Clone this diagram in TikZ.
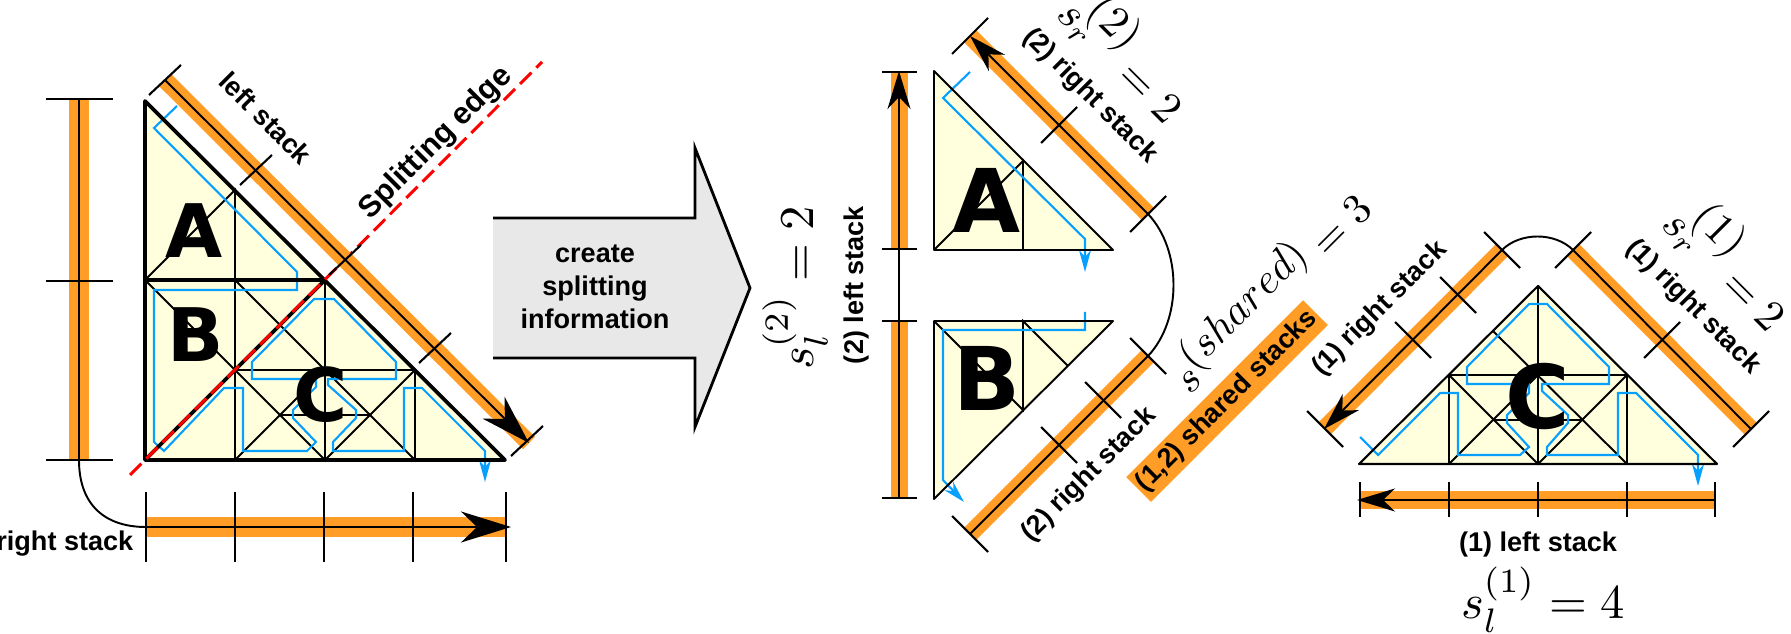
\documentclass[tikz,border=0pt]{standalone}
\usepackage[no-math]{fontspec}
\setmainfont{Liberation Sans}
\newfontfamily\letterfont{DejaVu Sans}
\usetikzlibrary{arrows.meta}
\definecolor{stackorange}{RGB}{255,157,38}
\definecolor{cellyellow}{RGB}{255,255,222}
\definecolor{pathblue}{RGB}{8,160,255}
\definecolor{arrowgray}{RGB}{232,232,232}
\tikzset{
  stackband/.style={stackorange, line width=1.7mm},
  stackline/.style={black, line width=0.55pt},
  stacktip/.style={-{Stealth[length=3.8mm,width=2.3mm,inset=1.2mm]}},
  bigtip/.style={-{Stealth[length=5mm,width=3.1mm,inset=1.6mm]}},
  tickline/.style={black, line width=0.6pt},
  cellline/.style={black, line width=0.55pt},
  bluepath/.style={pathblue, line width=0.6pt, -{Stealth[length=2.2mm,width=1.2mm,inset=0.7mm]}},
  stacklabel/.style={font=\fontsize{7.7}{9.4}\selectfont\bfseries, inner sep=0pt},
  mathlabel/.style={scale=1.38, inner sep=0pt},
  sidelabel/.style={scale=1.25, inner sep=0pt, anchor=base west},
  bigletter/.style={font=\fontsize{#1}{#1}\selectfont\letterfont\bfseries, inner sep=0pt},
}
\begin{document}
\begin{tikzpicture}[x=0.01cm,y=-0.01cm]
\useasboundingbox (0,0) rectangle (1791,634);

% left triangle
\fill[cellyellow] (145,101) -- (505,460) -- (145,460) -- cycle;
\draw[cellline] (145,280) -- (235,190) -- (235,460);
\draw[cellline] (145,280) -- (325,460) -- (325,280);
\draw[cellline] (235,280) -- (415,460) -- (415,370) -- (235,370);
\draw[cellline] (235,460) -- (325,370);
\draw[cellline] (325,460) -- (415,370);
\draw[cellline] (280,415) -- (370,415);
\draw[bluepath] (177,106) -- (154,128) -- (297,272) -- (297,290) -- (154,290) -- (154,442) -- (164,451) -- (224,388) -- (243,388) -- (243,451) -- (307,451) -- (316,442) -- (293,418) -- (293,410) -- (316,387) -- (316,379) -- (252,379) -- (252,362) -- (314,299) -- (334,299) -- (396,362) -- (396,379) -- (328,379) -- (328,385) -- (356,410) -- (356,418) -- (333,442) -- (333,451) -- (404,451) -- (404,388) -- (422,388) -- (485,451) -- (485,482);
\draw[line width=1.05pt, line join=round] (145,101) -- (505,460) -- (145,460) -- cycle;
\draw[line width=1.05pt] (145,280) -- (325,280);
\draw[line width=1.05pt] (145,460) -- (325,280);
\node[bigletter=21] (lettera) at (194,231) {A};
\node[bigletter=21] (letterb) at (196,335) {B};
\node[bigletter=21] (letterc) at (321,395) {C};
\draw[red, line width=0.85pt, dash pattern=on 1.6mm off 0.7mm] (130,475) -- (542,62);

% left triangle stacks
\coordinate (lefta) at (79,100);
\coordinate (leftb) at (79,460);
\coordinate (bottoma) at (146,527);
\coordinate (bottomb) at (511,527);
\coordinate (diaga) at (165,80);
\coordinate (diagb) at (529,443);
\draw[stackband, line width=2mm] (lefta) -- (leftb);
\draw[stackline] (lefta) -- (leftb);
\draw[stackband, line width=2mm] (bottoma) -- (506,527);
\draw[stackline, bigtip] (bottoma) -- (bottomb);
\draw[stackband] (diaga) -- (diagb);
\draw[stackline, bigtip] (diaga) -- (diagb);
\draw[stackline] (leftb) .. controls (79,505) and (105,527) .. (bottoma);
\foreach \y in {99,281,460}
  \draw[tickline] (46,\y) -- (113,\y);
\foreach \x in {146,235,324,413,506}
  \draw[tickline] (\x,492) -- (\x,562);
\foreach \x/\y in {165/80,256/170,345/260,435/348,527/441}
  \draw[tickline] (\x-16,\y+15) -- (\x+16,\y-15);
\node[stacklabel, rotate=-45] (leftstack) at (266,118) {left stack};
\node[stacklabel, font=\fontsize{8.7}{11}\selectfont\bfseries, rotate=45] (splitedge) at (436,143) {Splitting edge};
\node[stacklabel, anchor=east] (rightstack) at (134,544) {right stack};

% arrow in the middle
\fill[arrowgray] (493,218) -- (695,218) -- (695,148) -- (750,288) -- (695,427) -- (695,358) -- (493,358) -- cycle;
\draw[line width=0.8pt, line join=miter] (493,218) -- (695,218) -- (695,148) -- (750,288) -- (695,427) -- (695,358) -- (493,358);
\node[stacklabel, align=center] (splitinfo) at (595,287) {create\\splitting\\information};

% triangles A and B
\fill[cellyellow] (934,71) -- (1113,250) -- (934,250) -- cycle;
\draw[cellline] (934,250) -- (1023,161) -- (1023,250);
\draw[bluepath] (970,72) -- (943,98) -- (1085,239) -- (1085,272);
\draw[cellline, line join=round] (934,71) -- (1113,250) -- (934,250) -- cycle;
\fill[cellyellow] (934,321) -- (1113,321) -- (934,499) -- cycle;
\draw[cellline] (934,321) -- (1023,410) -- (1023,321) -- (1068,366);
\draw[bluepath] (1085,312) -- (1085,330) -- (943,330) -- (943,480) -- (964,502);
\draw[cellline, line join=round] (934,321) -- (1113,321) -- (934,499) -- cycle;
\node[bigletter=25] (letteraa) at (987,200) {A};
\node[bigletter=25] (letterbb) at (987,378) {B};

% stacks of A and B
\coordinate (leftaa) at (899,71);
\coordinate (leftab) at (899,249);
\coordinate (leftba) at (899,321);
\coordinate (leftbb) at (899,498);
\coordinate (rightaa) at (970,36);
\coordinate (rightab) at (1148,214);
\coordinate (rightba) at (1148,356);
\coordinate (rightbb) at (970,534);
\draw[stackband] (leftaa) -- (leftab);
\draw[stackband] (leftba) -- (leftbb);
\draw[stackline, stacktip] (leftbb) -- (leftaa);
\draw[stackband] (rightaa) -- (rightab);
\draw[stackband] (rightba) -- (rightbb);
\draw[stackline, stacktip] (rightab) -- (rightaa);
\draw[stackline] (rightba) -- (rightbb);
\draw[stackline] (rightab) .. controls (1182,250) and (1182,320) .. (rightba);
\foreach \y in {72,249,321,498}
  \draw[tickline] (882,\y) -- (917,\y);
\foreach \x/\y in {970/36,1059/125,1148/214}
  \draw[tickline] (\x-18,\y+18) -- (\x+18,\y-18);
\foreach \x/\y in {1148/356,1103/400,1059/445,970/534}
  \draw[tickline] (\x-18,\y-18) -- (\x+18,\y+18);
\node[stacklabel, rotate=90] (leftstacktwo) at (856,285) {(2) left stack};
\node[stacklabel, rotate=-45] (rightstacktwoa) at (1090,96) {(2) right stack};
\node[stacklabel, rotate=45] (rightstacktwob) at (1089,475) {(2) right stack};
\node[mathlabel, rotate=90] (sltwo) at (795,288) {$s_l^{(2)}=2$};
\node[sidelabel, rotate=-45] (srtwo) at (1055,16) {$s_r\hspace{-5pt}\raisebox{5.5pt}{$(2)$}=2$};

% shared stacks
\node[stacklabel, rotate=45, fill=stackorange, minimum width=2.5cm, minimum height=0.35cm] (sharedstack) at (1227,401) {(1,2) shared stacks};
\node[scale=1.21, inner sep=0pt, anchor=base west, rotate=45] (sshared) at (1190,396) {$s\raisebox{3.3pt}{$(shared)$}=3$};

% triangle C
\fill[cellyellow] (1538,286) -- (1717,464) -- (1359,464) -- cycle;
\draw[cellline] (1538,286) -- (1538,464);
\draw[cellline] (1449,464) -- (1449,375) -- (1627,375) -- (1627,464);
\draw[cellline] (1449,375) -- (1538,464) -- (1627,375);
\draw[cellline] (1493,331) -- (1627,464);
\draw[cellline] (1449,464) -- (1538,375);
\draw[cellline] (1494,420) -- (1583,420);
\draw[bluepath] (1360,437) -- (1378,455) -- (1440,393) -- (1458,393) -- (1458,455) -- (1520,455) -- (1529,447) -- (1507,423) -- (1507,415) -- (1529,393) -- (1529,384) -- (1467,384) -- (1467,367) -- (1529,304) -- (1547,304) -- (1609,367) -- (1609,384) -- (1542,384) -- (1542,391) -- (1568,415) -- (1568,423) -- (1547,447) -- (1547,455) -- (1618,455) -- (1618,393) -- (1636,393) -- (1698,455) -- (1698,486);
\draw[line width=0.6pt, line join=round] (1538,286) -- (1717,464) -- (1359,464) -- cycle;
\node[bigletter=25] (lettercc) at (1538,396) {C};

% stacks of C
\coordinate (bottomca) at (1715,500);
\coordinate (bottomcb) at (1357,500);
\coordinate (rightca) at (1502,250);
\coordinate (rightcb) at (1324,429);
\coordinate (rightda) at (1573,250);
\coordinate (rightdb) at (1751,429);
\draw[stackband] (bottomca) -- (1360,500);
\draw[stackline, stacktip] (bottomca) -- (bottomcb);
\draw[stackband] (rightca) -- (rightcb);
\draw[stackline, stacktip] (rightca) -- (rightcb);
\draw[stackband] (rightda) -- (rightdb);
\draw[stackline] (rightda) -- (rightdb);
\draw[stackline] (rightca) .. controls (1520,232) and (1555,232) .. (rightda);
\foreach \x in {1360,1449,1538,1627,1715}
  \draw[tickline] (\x,482) -- (\x,517);
\foreach \x/\y in {1502/250,1458/295,1413/340,1325/429}
  \draw[tickline] (\x-18,\y-18) -- (\x+18,\y+18);
\foreach \x/\y in {1573/250,1662/340,1751/429}
  \draw[tickline] (\x-18,\y+18) -- (\x+18,\y-18);
\node[stacklabel] (leftstackone) at (1538,544) {(1) left stack};
\node[stacklabel, rotate=45] (rightstackonea) at (1380,309) {(1) right stack};
\node[stacklabel, rotate=-45] (rightstackoneb) at (1693,307) {(1) right stack};
\node[mathlabel] (slone) at (1543,600) {$s_l^{(1)}=4$};
\node[sidelabel, rotate=-45] (srone) at (1660,226) {$s_r\hspace{-5.5pt}\raisebox{6pt}{$(1)$}=2$};
\end{tikzpicture}
\end{document}
